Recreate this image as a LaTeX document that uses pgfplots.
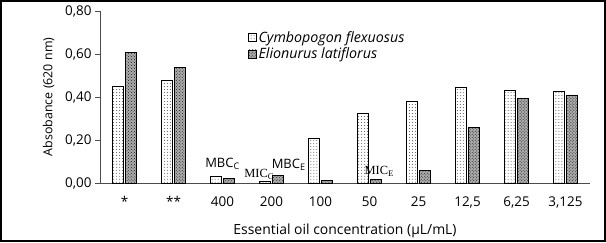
\documentclass[border=0pt]{standalone}
\usepackage{pgfplots}
\pgfplotsset{compat=1.18}
\usepackage{fontspec}
\setmainfont{Open Sans}
\newfontfamily\serifmic{Liberation Serif}
\usetikzlibrary{patterns}
\begin{document}
\begin{tikzpicture}[x=1bp,y=1bp]
\useasboundingbox (0,0) rectangle (606,242);
\begin{axis}[
  at={(100bp,59bp)}, anchor=south west,
  scale only axis, width=490bp, height=172bp,
  xmin=-0.5, xmax=9.5, ymin=0, ymax=0.8,
  axis lines*=left,
  axis line style={line width=0.6pt, black!70},
  ybar, bar width=0.225, 
  ytick={0,0.2,0.4,0.6,0.8},
  yticklabel style={/pgf/number format/.cd, fixed, fixed zerofill, precision=2, use comma},
  /pgf/number format/assume math mode=true,
  xtick={0,...,9},
  xticklabels={*,**,400,200,100,50,25,{12,5},{6,25},{3,125}},
  major x tick style={draw=none},
  extra x ticks={-0.5,0.5,...,9.5},
  extra x tick labels={},
  extra x tick style={major tick length=5bp, tick style={black!70, line width=0.6pt}},
  tick align=outside,
  major tick length=5bp,
  y tick style={black!70, line width=0.6pt},
  tick label style={font=\fontsize{13.5}{15}\selectfont},
  xticklabel style={yshift=-5bp},
  xlabel={Essential oil concentration (µL/mL)},
  ylabel={Absobance (620 nm)},
  label style={font=\fontsize{14}{16}\selectfont},
  xlabel style={yshift=1bp},
  ylabel style={font=\fontsize{12.5}{14}\selectfont, yshift=4bp},
  legend style={draw=none, at={(0.30,0.90)}, anchor=north west, font=\fontsize{14.3}{16}\itshape, row sep=0pt, fill=none, inner sep=1bp},
  legend cell align=left,
  legend image code/.code={\draw[#1, draw=black, line width=0.4pt] (0bp,-4bp) rectangle (8bp,4bp);},
]
\addplot[bar shift=-0.135, draw=black, line width=0.6pt, fill=white, postaction={pattern=dots, pattern color=black!70}] coordinates {
(0,0.450) (1,0.478) (2,0.030) (3,0.006) (4,0.210) (5,0.322) (6,0.378) (7,0.443) (8,0.432) (9,0.425)};
\addplot[bar shift=0.135, draw=black, line width=0.6pt, fill=gray!65, postaction={pattern=crosshatch dots, pattern color=black!90}] coordinates {
(0,0.608) (1,0.537) (2,0.022) (3,0.037) (4,0.011) (5,0.015) (6,0.060) (7,0.258) (8,0.393) (9,0.410)};
\legend{Cymbopogon flexuosus, Elionurus latiflorus}
\node[font=\fontsize{13}{15}\selectfont, anchor=south] at (axis cs:2,0.045) {MBC\textsubscript{C}};
\node[font=\serifmic\fontsize{12.5}{14}\selectfont, anchor=south, inner sep=1bp] at (axis cs:2.75,0.01) {MIC\textsubscript{C}};
\node[font=\fontsize{13}{15}\selectfont, anchor=south] at (axis cs:3.35,0.04) {MBC\textsubscript{E}};
\node[font=\serifmic\fontsize{12.5}{14}\selectfont, anchor=south, inner sep=1bp] at (axis cs:5.2,0.025) {MIC\textsubscript{E}};
\end{axis}
\draw[line width=2bp] (1,1) rectangle (605,241);
\end{tikzpicture}
\end{document}
